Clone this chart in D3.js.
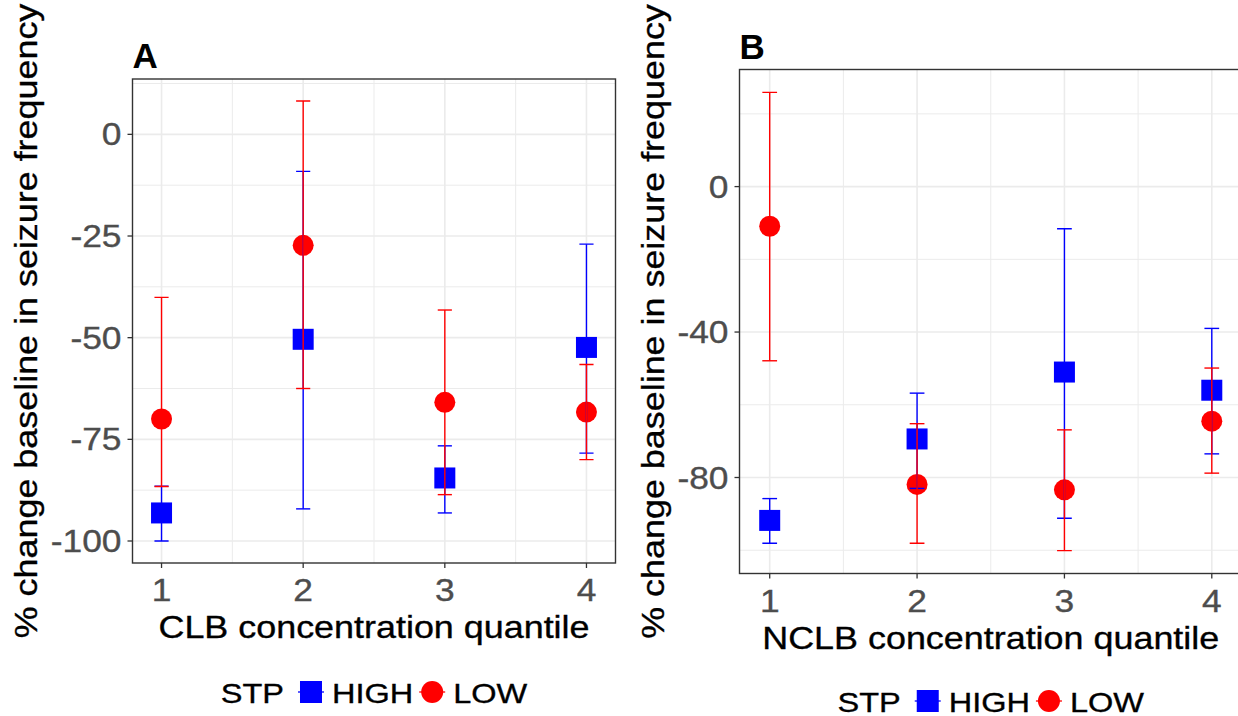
<!DOCTYPE html>
<html>
<head>
<meta charset="utf-8">
<script src="https://cdn.jsdelivr.net/npm/d3@7"></script>
<style>
  body { margin: 0; background: #fff; }
  text { font-family: "Liberation Sans", Arial, sans-serif; }
</style>
</head>
<body>
<svg id="chart"></svg>
<script>
var width = 1238, height = 716;
var SX = 1.14; // text in the picture runs a bit wider than Arial

// quantile categories
var quantiles = [1, 2, 3, 4];
var groups = ["HIGH", "LOW"];

// panel A: CLB
var clbHighMean = [-93.1, -50.4, -84.5, -52.4];
var clbHighLo = [-100, -92.1, -93.1, -78.4];
var clbHighHi = [-86.5, -9.1, -76.6, -27.0];
var clbLowMean = [-70.0, -27.3, -65.9, -68.3];
var clbLowLo = [-86.6, -62.5, -88.6, -80.0];
var clbLowHi = [-40.1, 8.2, -43.2, -56.6];

// panel B: NCLB
var nclbHighMean = [-91.8, -69.4, -51.0, -56.0];
var nclbHighLo = [-98.1, -83.0, -91.2, -73.5];
var nclbHighHi = [-85.8, -56.8, -11.6, -39.0];
var nclbLowMean = [-10.9, -81.9, -83.4, -64.5];
var nclbLowLo = [-47.9, -98.1, -100.1, -78.8];
var nclbLowHi = [25.9, -65.2, -66.9, -49.9];

var clbYTicks = [-100, -75, -50, -25, 0];
var nclbYTicks = [-80, -40, 0];
var xTicks = [1, 2, 3, 4];

var colors = { HIGH: "#0000FF", LOW: "#FF0000" };

var svg = d3.select("#chart")
    .attr("width", width)
    .attr("height", height);

svg.append("rect").attr("width", width).attr("height", height).attr("fill", "#fff");

function rows(means, los, his, grp) {
    return quantiles.map(function (q, i) {
        return { q: q, mean: means[i], lo: los[i], hi: his[i], grp: grp };
    });
}

function addText(g, str, x, y, o) {
    var fill = o.fill || "#000";
    return g.append("text")
        .attr("transform", "translate(" + x + "," + y + ")" + (o.rotate ? " rotate(-90)" : "") + " scale(" + (o.sx || SX) + ",1)")
        .attr("text-anchor", o.anchor || "start")
        .attr("font-size", o.size)
        .attr("font-weight", o.bold ? "bold" : "normal")
        .attr("fill", fill)
        .attr("stroke", o.bold ? "none" : fill)
        .attr("stroke-width", 0.35)
        .text(str);
}

function drawPanel(p) {
    var g = svg.append("g");
    var data = rows(p.highMean, p.highLo, p.highHi, "HIGH").concat(rows(p.lowMean, p.lowLo, p.lowHi, "LOW"));

    // ggplot style 5% expansion, error bar width 0.1
    var capW = 0.1;
    var xr = [d3.min(quantiles) - capW / 2, d3.max(quantiles) + capW / 2];
    var xpad = (xr[1] - xr[0]) * 0.05;
    var x = d3.scaleLinear().domain([xr[0] - xpad, xr[1] + xpad]).range([p.left, p.right]);

    var ymin = d3.min(data, function (d) { return d.lo; });
    var ymax = d3.max(data, function (d) { return d.hi; });
    var ypad = (ymax - ymin) * 0.05;
    var y = d3.scaleLinear().domain([ymin - ypad, ymax + ypad]).range([p.bottom, p.top]);

    var step = p.yTicks[1] - p.yTicks[0];
    var yMinor = d3.range(p.yTicks[0] - step / 2, p.yTicks[p.yTicks.length - 1] + step, step)
        .filter(function (v) { return v > y.domain()[0] && v < y.domain()[1]; });
    var xMinor = [1.5, 2.5, 3.5];

    var clipId = "clip" + p.tag;
    svg.append("clipPath").attr("id", clipId)
        .append("rect").attr("x", p.left).attr("y", p.top)
        .attr("width", p.right - p.left).attr("height", p.bottom - p.top);

    var plot = g.append("g").attr("clip-path", "url(#" + clipId + ")");

    // grid
    plot.selectAll(".ymin").data(yMinor).enter().append("line")
        .attr("x1", p.left).attr("x2", p.right)
        .attr("y1", function (d) { return y(d); }).attr("y2", function (d) { return y(d); })
        .attr("stroke", "#EBEBEB").attr("stroke-width", 1);
    plot.selectAll(".xmin").data(xMinor).enter().append("line")
        .attr("y1", p.top).attr("y2", p.bottom)
        .attr("x1", function (d) { return x(d); }).attr("x2", function (d) { return x(d); })
        .attr("stroke", "#EBEBEB").attr("stroke-width", 1);
    plot.selectAll(".ymaj").data(p.yTicks).enter().append("line")
        .attr("x1", p.left).attr("x2", p.right)
        .attr("y1", function (d) { return y(d); }).attr("y2", function (d) { return y(d); })
        .attr("stroke", "#EBEBEB").attr("stroke-width", 1.6);
    plot.selectAll(".xmaj").data(xTicks).enter().append("line")
        .attr("y1", p.top).attr("y2", p.bottom)
        .attr("x1", function (d) { return x(d); }).attr("x2", function (d) { return x(d); })
        .attr("stroke", "#EBEBEB").attr("stroke-width", 1.6);

    // points
    var half = 10.5;
    plot.selectAll(".sq").data(data.filter(function (d) { return d.grp == "HIGH"; }))
        .enter().append("rect")
        .attr("x", function (d) { return x(d.q) - half; })
        .attr("y", function (d) { return y(d.mean) - half; })
        .attr("width", half * 2).attr("height", half * 2)
        .attr("fill", colors.HIGH);
    plot.selectAll(".dot").data(data.filter(function (d) { return d.grp == "LOW"; }))
        .enter().append("circle")
        .attr("cx", function (d) { return x(d.q); })
        .attr("cy", function (d) { return y(d.mean); })
        .attr("r", 10.5)
        .attr("fill", colors.LOW);

    // error bars
    var eb = plot.selectAll(".eb").data(data).enter().append("g")
        .attr("stroke", function (d) { return colors[d.grp]; })
        .attr("stroke-width", 1.4);
    eb.append("line")
        .attr("x1", function (d) { return x(d.q); }).attr("x2", function (d) { return x(d.q); })
        .attr("y1", function (d) { return y(d.lo); }).attr("y2", function (d) { return y(d.hi); });
    eb.append("line")
        .attr("x1", function (d) { return x(d.q - capW / 2); }).attr("x2", function (d) { return x(d.q + capW / 2); })
        .attr("y1", function (d) { return y(d.hi); }).attr("y2", function (d) { return y(d.hi); });
    eb.append("line")
        .attr("x1", function (d) { return x(d.q - capW / 2); }).attr("x2", function (d) { return x(d.q + capW / 2); })
        .attr("y1", function (d) { return y(d.lo); }).attr("y2", function (d) { return y(d.lo); });

    // border
    g.append("rect")
        .attr("x", p.left).attr("y", p.top)
        .attr("width", p.right - p.left).attr("height", p.bottom - p.top)
        .attr("fill", "none").attr("stroke", "#333333").attr("stroke-width", 1.4);

    // ticks + labels
    p.yTicks.forEach(function (v) {
        g.append("line").attr("x1", p.left - 5).attr("x2", p.left)
            .attr("y1", y(v)).attr("y2", y(v)).attr("stroke", "#333333").attr("stroke-width", 1.3);
        addText(g, String(v), p.left - 11, y(v) + 11, { anchor: "end", size: 31, fill: "#4D4D4D" });
    });
    xTicks.forEach(function (v) {
        g.append("line").attr("x1", x(v)).attr("x2", x(v))
            .attr("y1", p.bottom).attr("y2", p.bottom + 5).attr("stroke", "#333333").attr("stroke-width", 1.3);
        addText(g, String(v), x(v), p.bottom + 38, { anchor: "middle", size: 31, fill: "#4D4D4D" });
    });

    var cx = (p.left + p.right) / 2;
    addText(g, p.xTitle, cx, p.bottom + 75, { anchor: "middle", size: 31.5 });
    addText(g, "% change baseline in seizure frequency", p.yTitleX, (p.top + p.bottom) / 2,
        { anchor: "middle", size: 31.5, rotate: true });
    addText(g, p.tag, p.left, p.top - 11, { size: 35, bold: true, sx: 1 });

    // legend
    var lg = g.append("g");
    var ly = Math.min(p.bottom + 140, height - 4);
    var cur = 0;
    var t = addText(lg, "STP", cur, ly, { size: 28.5 });
    cur += t.node().getComputedTextLength() * SX + 16;
    groups.forEach(function (grp) {
        var kc = cur + 11, kcy = ly - 11;
        lg.append("line").attr("x1", kc - 13).attr("x2", kc + 13)
            .attr("y1", kcy).attr("y2", kcy)
            .attr("stroke", colors[grp]).attr("stroke-width", 1.3);
        if (grp == "HIGH") {
            lg.append("rect").attr("x", kc - 11).attr("y", kcy - 11)
                .attr("width", 22).attr("height", 22).attr("fill", colors[grp]);
        } else {
            lg.append("circle").attr("cx", kc).attr("cy", kcy).attr("r", 11).attr("fill", colors[grp]);
        }
        cur += 22 + 10;
        var tt = addText(lg, grp, cur, ly, { size: 28.5 });
        cur += tt.node().getComputedTextLength() * SX + 8;
    });
    cur -= 8;
    lg.attr("transform", "translate(" + (cx - cur / 2) + ",0)");
}

drawPanel({
    tag: "A", left: 132.5, right: 615.5, top: 79, bottom: 563,
    xTitle: "CLB concentration quantile", yTitleX: 37, yTicks: clbYTicks,
    highMean: clbHighMean, highLo: clbHighLo, highHi: clbHighHi,
    lowMean: clbLowMean, lowLo: clbLowLo, lowHi: clbLowHi
});

drawPanel({
    tag: "B", left: 739.5, right: 1242, top: 69.5, bottom: 573.5,
    xTitle: "NCLB concentration quantile", yTitleX: 664, yTicks: nclbYTicks,
    highMean: nclbHighMean, highLo: nclbHighLo, highHi: nclbHighHi,
    lowMean: nclbLowMean, lowLo: nclbLowLo, lowHi: nclbLowHi
});
</script>
</body>
</html>
